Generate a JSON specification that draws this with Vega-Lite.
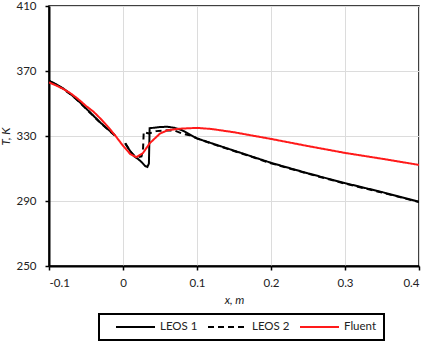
{
  "$schema": "https://vega.github.io/schema/vega-lite/v6.json",
  "width": 370,
  "height": 260,
  "autosize": {"type": "none"},
  "padding": {"left": 49, "top": 6, "right": 10, "bottom": 77},
  "config": {
    "font": "Lato",
    "view": {"stroke": "black", "strokeWidth": 1.5},
    "axis": {
      "labelFont": "Lato", "labelFontSize": 11.5, "labelColor": "#222",
      "titleFont": "Lato", "titleFontSize": 11.5, "titleFontWeight": "normal", "titleColor": "#222",
      "domainColor": "black", "domainWidth": 2, "tickColor": "black", "tickWidth": 1.5, "tickSize": 4,
      "gridColor": "#dcdcdc", "gridWidth": 1
    }
  },
  "data": {
    "values": [
      {"s": "LEOS 1", "g": "A", "x": -0.1, "T": 364},
      {"s": "LEOS 1", "g": "A", "x": -0.09, "T": 361.8},
      {"s": "LEOS 1", "g": "A", "x": -0.08, "T": 359},
      {"s": "LEOS 1", "g": "A", "x": -0.07, "T": 355.5},
      {"s": "LEOS 1", "g": "A", "x": -0.06, "T": 351.5},
      {"s": "LEOS 1", "g": "A", "x": -0.05, "T": 347},
      {"s": "LEOS 1", "g": "A", "x": -0.04, "T": 342.5},
      {"s": "LEOS 1", "g": "A", "x": -0.03, "T": 338},
      {"s": "LEOS 1", "g": "A", "x": -0.02, "T": 334},
      {"s": "LEOS 1", "g": "A", "x": -0.011, "T": 330.5},
      {"s": "LEOS 1", "g": "B", "x": 0.003, "T": 325.5},
      {"s": "LEOS 1", "g": "B", "x": 0.01, "T": 320.5},
      {"s": "LEOS 1", "g": "B", "x": 0.015, "T": 317.5},
      {"s": "LEOS 1", "g": "B", "x": 0.02, "T": 316},
      {"s": "LEOS 1", "g": "B", "x": 0.025, "T": 314},
      {"s": "LEOS 1", "g": "B", "x": 0.03, "T": 311.5},
      {"s": "LEOS 1", "g": "B", "x": 0.033, "T": 311},
      {"s": "LEOS 1", "g": "B", "x": 0.035, "T": 313},
      {"s": "LEOS 1", "g": "B", "x": 0.036, "T": 334.8},
      {"s": "LEOS 1", "g": "B", "x": 0.04, "T": 335},
      {"s": "LEOS 1", "g": "B", "x": 0.05, "T": 335.5},
      {"s": "LEOS 1", "g": "B", "x": 0.06, "T": 335.7},
      {"s": "LEOS 1", "g": "B", "x": 0.07, "T": 335},
      {"s": "LEOS 1", "g": "B", "x": 0.08, "T": 333.5},
      {"s": "LEOS 1", "g": "B", "x": 0.09, "T": 331},
      {"s": "LEOS 1", "g": "B", "x": 0.1, "T": 328.5},
      {"s": "LEOS 1", "g": "B", "x": 0.12, "T": 325.5},
      {"s": "LEOS 1", "g": "B", "x": 0.15, "T": 321},
      {"s": "LEOS 1", "g": "B", "x": 0.2, "T": 313.5},
      {"s": "LEOS 1", "g": "B", "x": 0.25, "T": 307},
      {"s": "LEOS 1", "g": "B", "x": 0.3, "T": 301},
      {"s": "LEOS 1", "g": "B", "x": 0.35, "T": 295.5},
      {"s": "LEOS 1", "g": "B", "x": 0.4, "T": 289.5},
      {"s": "LEOS 2", "g": "A", "x": -0.1, "T": 363.8},
      {"s": "LEOS 2", "g": "A", "x": -0.09, "T": 361.6},
      {"s": "LEOS 2", "g": "A", "x": -0.08, "T": 358.8},
      {"s": "LEOS 2", "g": "A", "x": -0.07, "T": 355.3},
      {"s": "LEOS 2", "g": "A", "x": -0.06, "T": 351.3},
      {"s": "LEOS 2", "g": "A", "x": -0.05, "T": 346.8},
      {"s": "LEOS 2", "g": "A", "x": -0.04, "T": 342.3},
      {"s": "LEOS 2", "g": "A", "x": -0.03, "T": 337.8},
      {"s": "LEOS 2", "g": "A", "x": -0.02, "T": 333.8},
      {"s": "LEOS 2", "g": "A", "x": -0.011, "T": 330.3},
      {"s": "LEOS 2", "g": "B", "x": 0.003, "T": 325.5},
      {"s": "LEOS 2", "g": "B", "x": 0.01, "T": 320.5},
      {"s": "LEOS 2", "g": "B", "x": 0.015, "T": 318},
      {"s": "LEOS 2", "g": "B", "x": 0.02, "T": 317},
      {"s": "LEOS 2", "g": "B", "x": 0.025, "T": 317.5},
      {"s": "LEOS 2", "g": "B", "x": 0.027, "T": 321},
      {"s": "LEOS 2", "g": "B", "x": 0.028, "T": 332.5},
      {"s": "LEOS 2", "g": "B", "x": 0.035, "T": 331.5},
      {"s": "LEOS 2", "g": "B", "x": 0.045, "T": 333},
      {"s": "LEOS 2", "g": "B", "x": 0.06, "T": 333.5},
      {"s": "LEOS 2", "g": "B", "x": 0.07, "T": 333.3},
      {"s": "LEOS 2", "g": "B", "x": 0.08, "T": 331.5},
      {"s": "LEOS 2", "g": "B", "x": 0.09, "T": 330.5},
      {"s": "LEOS 2", "g": "B", "x": 0.1, "T": 328.5},
      {"s": "LEOS 2", "g": "B", "x": 0.12, "T": 325.3},
      {"s": "LEOS 2", "g": "B", "x": 0.15, "T": 320.8},
      {"s": "LEOS 2", "g": "B", "x": 0.2, "T": 313.2},
      {"s": "LEOS 2", "g": "B", "x": 0.25, "T": 306.8},
      {"s": "LEOS 2", "g": "B", "x": 0.3, "T": 300.7},
      {"s": "LEOS 2", "g": "B", "x": 0.35, "T": 295.2},
      {"s": "LEOS 2", "g": "B", "x": 0.4, "T": 289.3},
      {"s": "Fluent", "g": "A", "x": -0.1, "T": 363},
      {"s": "Fluent", "g": "A", "x": -0.09, "T": 361},
      {"s": "Fluent", "g": "A", "x": -0.08, "T": 358.8},
      {"s": "Fluent", "g": "A", "x": -0.07, "T": 356},
      {"s": "Fluent", "g": "A", "x": -0.06, "T": 352.5},
      {"s": "Fluent", "g": "A", "x": -0.05, "T": 348.5},
      {"s": "Fluent", "g": "A", "x": -0.04, "T": 345},
      {"s": "Fluent", "g": "A", "x": -0.03, "T": 340.5},
      {"s": "Fluent", "g": "A", "x": -0.02, "T": 335.5},
      {"s": "Fluent", "g": "A", "x": -0.01, "T": 330},
      {"s": "Fluent", "g": "A", "x": 0.0, "T": 324},
      {"s": "Fluent", "g": "A", "x": 0.01, "T": 318.8},
      {"s": "Fluent", "g": "A", "x": 0.018, "T": 317},
      {"s": "Fluent", "g": "A", "x": 0.027, "T": 319.5},
      {"s": "Fluent", "g": "A", "x": 0.036, "T": 325.5},
      {"s": "Fluent", "g": "A", "x": 0.05, "T": 331.5},
      {"s": "Fluent", "g": "A", "x": 0.06, "T": 333.5},
      {"s": "Fluent", "g": "A", "x": 0.077, "T": 334.5},
      {"s": "Fluent", "g": "A", "x": 0.1, "T": 335},
      {"s": "Fluent", "g": "A", "x": 0.12, "T": 334.3},
      {"s": "Fluent", "g": "A", "x": 0.15, "T": 332.3},
      {"s": "Fluent", "g": "A", "x": 0.2, "T": 328.2},
      {"s": "Fluent", "g": "A", "x": 0.25, "T": 323.8},
      {"s": "Fluent", "g": "A", "x": 0.3, "T": 319.6},
      {"s": "Fluent", "g": "A", "x": 0.35, "T": 316},
      {"s": "Fluent", "g": "A", "x": 0.4, "T": 312.2}
    ]
  },
  "mark": {"type": "line", "strokeWidth": 2, "clip": true},
  "encoding": {
    "x": {
      "field": "x", "type": "quantitative",
      "scale": {"domain": [-0.1, 0.4], "nice": false},
      "axis": {"values": [-0.1, 0, 0.1, 0.2, 0.3, 0.4], "format": "~g", "labelExpr": "replace(datum.label, '−', '-')", "title": "x, m", "titleFontStyle": "italic", "labelPadding": 7, "titlePadding": 6}
    },
    "y": {
      "field": "T", "type": "quantitative",
      "scale": {"domain": [250, 410], "nice": false, "zero": false},
      "axis": {"values": [250, 290, 330, 370, 410], "title": "T, K", "titleFontStyle": "italic", "labelPadding": 9, "titlePadding": 4}
    },
    "color": {
      "field": "s", "type": "nominal",
      "scale": {"domain": ["LEOS 1", "LEOS 2", "Fluent"], "range": ["black", "black", "#ff1a1a"]},
      "legend": {
        "title": null, "orient": "none", "legendX": 50, "legendY": 308, "direction": "horizontal",
        "symbolType": "stroke", "symbolSize": 1521, "symbolStrokeWidth": 2, "clipHeight": 12,
        "symbolOffset": 9,
        "labelFont": "Lato", "labelFontSize": 11.5, "labelColor": "#222",
        "strokeColor": "black", "padding": 7, "columnPadding": 0, "labelOffset": 4,
        "encode": {"legend": {"update": {"strokeWidth": {"value": 2}}}}
      }
    },
    "strokeDash": {
      "field": "s", "type": "nominal",
      "scale": {"domain": ["LEOS 1", "LEOS 2", "Fluent"], "range": [[1, 0], [6, 4], [1, 0]]}
    },
    "detail": {"field": "g"}
  }
}
